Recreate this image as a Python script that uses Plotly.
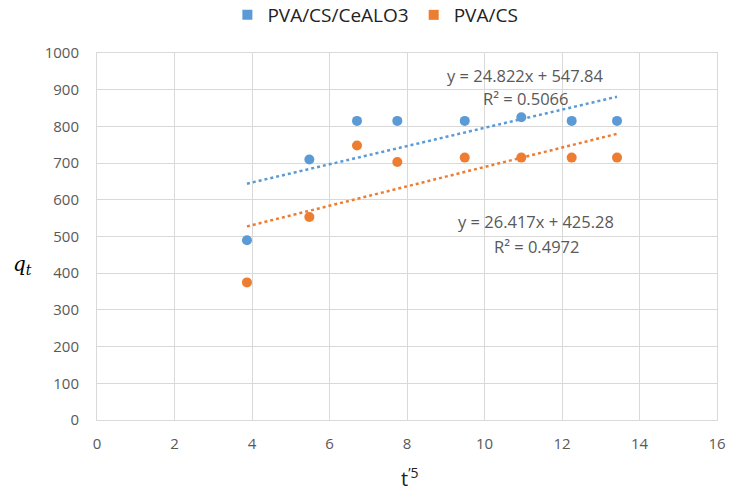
import plotly.graph_objects as go

x_vals = [3.87, 5.48, 6.71, 7.75, 9.49, 10.95, 12.25, 13.42]
blue_vals = [490, 710, 815, 815, 815, 825, 815, 815]
orange_vals = [375, 553, 748, 703, 715, 715, 715, 715]
series_names = ["PVA/CS/CeALO3", "PVA/CS"]
blue_fit = (24.822, 547.84)
orange_fit = (26.417, 425.28)
blue_r2 = "0.5066"
orange_r2 = "0.4972"

BLUE = "#5B9BD5"
ORANGE = "#ED7D31"
FONT = "Open Sans"

def fit_line(slope_int):
    s, b = slope_int
    xs = [x_vals[0], x_vals[-1]]
    return xs, [s * x + b for x in xs]

fig = go.Figure()
for vals, col, fit in [(blue_vals, BLUE, blue_fit), (orange_vals, ORANGE, orange_fit)]:
    fx, fy = fit_line(fit)
    fig.add_trace(go.Scatter(x=fx, y=fy, mode="lines", showlegend=False,
                             line=dict(color=col, width=2.5, dash="dot")))
    fig.add_trace(go.Scatter(x=x_vals, y=vals, mode="markers", showlegend=False,
                             marker=dict(color=col, size=10)))
for name, col in zip(series_names, [BLUE, ORANGE]):
    fig.add_trace(go.Scatter(x=[None], y=[None], mode="markers", name=name,
                             marker=dict(color=col, size=10, symbol="square")))

annots = [
    dict(x=11.05, y=940, text=f"y = {blue_fit[0]}x + {blue_fit[1]}"),
    dict(x=11.05, y=877, text=f"R² = {blue_r2}"),
    dict(x=11.33, y=540, text=f"y = {orange_fit[0]}x + {orange_fit[1]}"),
    dict(x=11.35, y=474, text=f"R² = {orange_r2}"),
]
for a in annots:
    fig.add_annotation(x=a["x"], y=a["y"], text=a["text"], showarrow=False,
                       xref="x", yref="y", font=dict(family=FONT, size=16.5, color="#595959"))

fig.add_annotation(x=22, xref="paper", y=265, yref="paper", showarrow=False,
                   text="<i>q<sub>t</sub></i>", xanchor="center", yanchor="middle",
                   font=dict(family="DejaVu Serif", size=20, color="#000000"))
fig.add_annotation(x=410, xref="paper", y=478, yref="paper", showarrow=False,
                   text="t<sup>’5</sup>", xanchor="center", yanchor="middle",
                   font=dict(family=FONT, size=20, color="#222222"))

# convert pixel positions of the axis titles to paper coords
L, R, T, B, W, H = 97, 14, 53, 72, 731, 492
pw, ph = W - L - R, H - T - B
for ann in fig.layout.annotations[-2:]:
    ann.x = (ann.x - L) / pw
    ann.y = 1 - (ann.y - T) / ph

fig.update_layout(
    width=W, height=H,
    margin=dict(l=L, r=R, t=T, b=B, autoexpand=False),
    paper_bgcolor="white", plot_bgcolor="white",
    font=dict(family=FONT, color="#595959", size=15),
    legend=dict(orientation="h", x=0.449, xanchor="center", y=1 + (T - 15) / ph, yanchor="middle",
                font=dict(family=FONT, size=19, color="#222222"),
                tracegroupgap=0, itemwidth=30),
    xaxis=dict(range=[0, 16], dtick=2, showgrid=True, gridcolor="#d9d9d9", gridwidth=1,
               zeroline=False, showline=True, linecolor="#d9d9d9", mirror=True,
               ticks="outside", ticklen=10, tickcolor="white"),
    yaxis=dict(range=[0, 1000], dtick=100, showgrid=True, gridcolor="#d9d9d9", gridwidth=1,
               zeroline=False, showline=True, linecolor="#d9d9d9", mirror=True,
               ticks="outside", ticklen=14, tickcolor="white"),
)

fig.write_html("out.html")
